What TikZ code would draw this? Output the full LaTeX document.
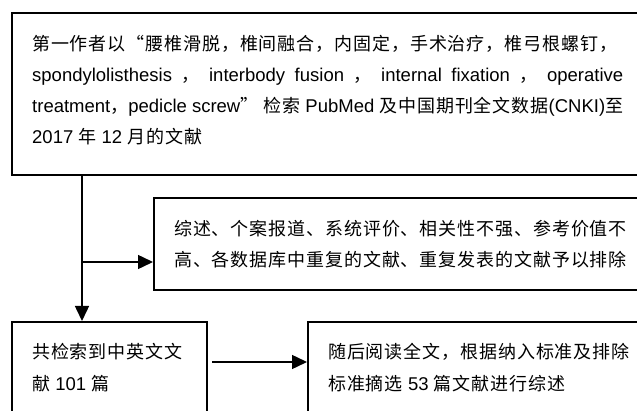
\documentclass[tikz,border=0pt]{standalone}
\usepackage{fontspec}
\setmainfont{Liberation Sans}
\newfontfamily\cjk[LetterSpace=5,Scale=0.973]{Noto Sans CJK SC}
\newcommand\zh[1]{{\cjk #1}}
\XeTeXlinebreaklocale "zh"
\XeTeXlinebreakskip=0pt plus 2pt
\usetikzlibrary{arrows.meta}
\begin{document}
\begin{tikzpicture}[x=1pt,y=-1pt,
  box/.style={draw, line width=1.7pt, anchor=north west, inner sep=0pt},
  txt/.style={anchor=base west, inner sep=0pt, font=\fontsize{18.5pt}{22pt}\selectfont},
  arr/.style={line width=1.5pt, -{Triangle[length=15pt,width=14pt]}}]
\useasboundingbox (0,0) rectangle (637,411);
\clip (0,0) rectangle (637,411);
% boxes
\node[box, minimum width=660pt, minimum height=162pt] (top) at (11,12) {};
\node[box, minimum width=520pt, minimum height=92pt] (mid) at (153,197) {};
\node[box, minimum width=195pt, minimum height=120pt] (bl) at (11,321) {};
\node[box, minimum width=360pt, minimum height=120pt] (br) at (307,321) {};
% texts
\node[txt] (t1) at (32,51) {\makebox[591pt][s]{\zh{第一作者以“腰椎滑脱，椎间融合，内固定，手术治疗，椎弓根螺钉，}}};
\node[txt] (t2) at (32,82) {\makebox[591pt][s]{spondylolisthesis \zh{，} interbody fusion \zh{，} internal fixation \zh{，} operative}};
\node[txt] (t3) at (32,113) {\makebox[591pt][s]{treatment\zh{，}pedicle screw\zh{”} \zh{检索} PubMed \zh{及中国期刊全文数据}(CNKI)\zh{至}}};
\node[txt] (t4) at (32,144) {2017 \zh{年} 12 \zh{月的文献}};
\node[txt] (m1) at (174,236) {\zh{综述、个案报道、系统评价、相关性不强、参考价值不}};
\node[txt] (m2) at (174,267) {\zh{高、各数据库中重复的文献、重复发表的文献予以排除}};
\node[txt] (b1) at (32,359) {\zh{共检索到中英文文}};
\node[txt] (b2) at (32,390) {\zh{献} 101 \zh{篇}};
\node[txt] (r1) at (328,359) {\zh{随后阅读全文，根据纳入标准及排除}};
\node[txt] (r2) at (328,390) {\zh{标准摘选} 53 \zh{篇文献进行综述}};
% connectors
\coordinate (j) at (82,262);
\coordinate (h) at (212,362);
\draw[arr] (top.south -| j) -- (bl.north -| j);
\draw[arr] (j) -- (mid.west |- j);
\draw[arr] (h) -- (br.west |- h);
\end{tikzpicture}
\end{document}
